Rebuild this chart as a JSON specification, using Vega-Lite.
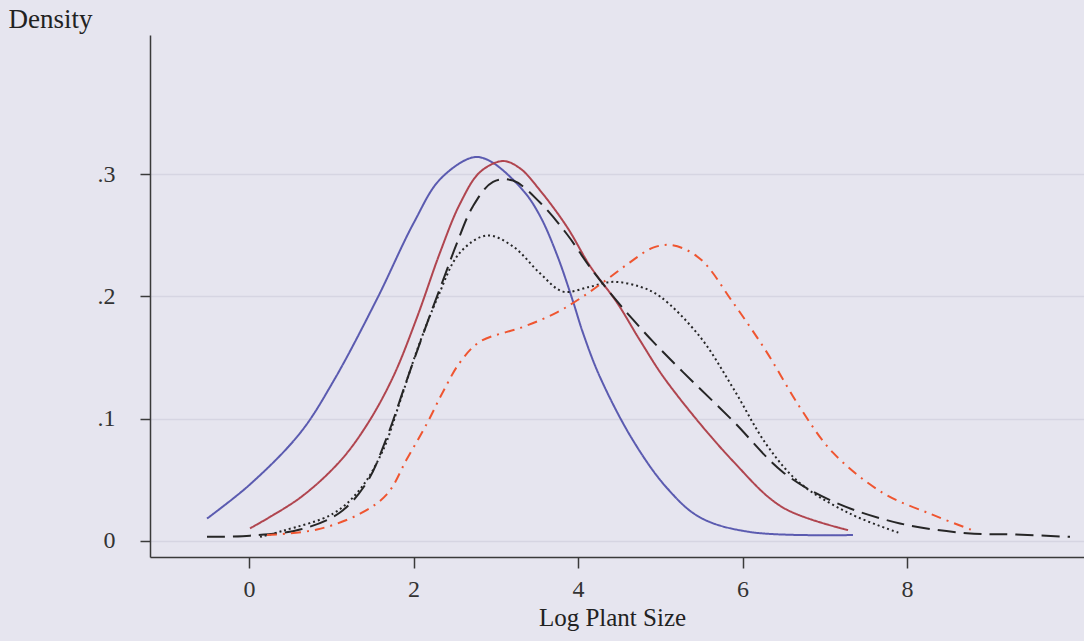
{
  "$schema": "https://vega.github.io/schema/vega-lite/v6.json",
  "width": 934,
  "height": 522,
  "autosize": {"type": "none"},
  "padding": {"left": 150, "top": 35, "right": 0, "bottom": 84},
  "background": "#e6e5ef",
  "config": {
    "view": {"stroke": null, "fill": "#e6e5ef"},
    "font": "Liberation Serif"
  },
  "data": {
    "values": [
      {"s": "A", "x": -0.511, "y": 0.018},
      {"s": "A", "x": 0.012, "y": 0.046},
      {"s": "A", "x": 0.620, "y": 0.088},
      {"s": "A", "x": 1.021, "y": 0.130},
      {"s": "A", "x": 1.556, "y": 0.198},
      {"s": "A", "x": 2.000, "y": 0.260},
      {"s": "A", "x": 2.322, "y": 0.296},
      {"s": "A", "x": 2.723, "y": 0.314},
      {"s": "A", "x": 2.930, "y": 0.311},
      {"s": "A", "x": 3.331, "y": 0.287},
      {"s": "A", "x": 3.538, "y": 0.266},
      {"s": "A", "x": 3.745, "y": 0.234},
      {"s": "A", "x": 3.939, "y": 0.196},
      {"s": "A", "x": 4.061, "y": 0.170},
      {"s": "A", "x": 4.267, "y": 0.134},
      {"s": "A", "x": 4.669, "y": 0.082},
      {"s": "A", "x": 5.082, "y": 0.043},
      {"s": "A", "x": 5.483, "y": 0.019},
      {"s": "A", "x": 6.091, "y": 0.007},
      {"s": "A", "x": 7.343, "y": 0.0045},

      {"s": "B", "x": 0.012, "y": 0.010},
      {"s": "B", "x": 0.620, "y": 0.035},
      {"s": "B", "x": 1.106, "y": 0.065},
      {"s": "B", "x": 1.435, "y": 0.095},
      {"s": "B", "x": 1.751, "y": 0.134},
      {"s": "B", "x": 2.043, "y": 0.183},
      {"s": "B", "x": 2.322, "y": 0.236},
      {"s": "B", "x": 2.565, "y": 0.276},
      {"s": "B", "x": 2.809, "y": 0.302},
      {"s": "B", "x": 3.088, "y": 0.311},
      {"s": "B", "x": 3.295, "y": 0.305},
      {"s": "B", "x": 3.538, "y": 0.287},
      {"s": "B", "x": 3.866, "y": 0.257},
      {"s": "B", "x": 4.146, "y": 0.225},
      {"s": "B", "x": 4.474, "y": 0.195},
      {"s": "B", "x": 4.754, "y": 0.164},
      {"s": "B", "x": 5.082, "y": 0.130},
      {"s": "B", "x": 5.885, "y": 0.065},
      {"s": "B", "x": 6.492, "y": 0.027},
      {"s": "B", "x": 7.283, "y": 0.0086},

      {"s": "C", "x": -0.511, "y": 0.003},
      {"s": "C", "x": 0.012, "y": 0.004},
      {"s": "C", "x": 0.620, "y": 0.009},
      {"s": "C", "x": 1.106, "y": 0.023},
      {"s": "C", "x": 1.435, "y": 0.048},
      {"s": "C", "x": 1.678, "y": 0.085},
      {"s": "C", "x": 1.921, "y": 0.132},
      {"s": "C", "x": 2.164, "y": 0.178},
      {"s": "C", "x": 2.407, "y": 0.222},
      {"s": "C", "x": 2.529, "y": 0.244},
      {"s": "C", "x": 2.723, "y": 0.274},
      {"s": "C", "x": 2.967, "y": 0.294},
      {"s": "C", "x": 3.210, "y": 0.295},
      {"s": "C", "x": 3.538, "y": 0.277},
      {"s": "C", "x": 3.866, "y": 0.251},
      {"s": "C", "x": 4.146, "y": 0.224},
      {"s": "C", "x": 4.426, "y": 0.200},
      {"s": "C", "x": 4.669, "y": 0.181},
      {"s": "C", "x": 4.912, "y": 0.163},
      {"s": "C", "x": 5.277, "y": 0.138},
      {"s": "C", "x": 5.885, "y": 0.098},
      {"s": "C", "x": 6.492, "y": 0.056},
      {"s": "C", "x": 7.100, "y": 0.032},
      {"s": "C", "x": 7.915, "y": 0.014},
      {"s": "C", "x": 8.729, "y": 0.006},
      {"s": "C", "x": 9.290, "y": 0.005},
      {"s": "C", "x": 9.982, "y": 0.003},

      {"s": "D", "x": 0.134, "y": 0.003},
      {"s": "D", "x": 0.413, "y": 0.008},
      {"s": "D", "x": 1.021, "y": 0.022},
      {"s": "D", "x": 1.350, "y": 0.042},
      {"s": "D", "x": 1.629, "y": 0.074},
      {"s": "D", "x": 1.836, "y": 0.114},
      {"s": "D", "x": 2.043, "y": 0.156},
      {"s": "D", "x": 2.286, "y": 0.198},
      {"s": "D", "x": 2.565, "y": 0.236},
      {"s": "D", "x": 2.894, "y": 0.250},
      {"s": "D", "x": 3.210, "y": 0.241},
      {"s": "D", "x": 3.538, "y": 0.219},
      {"s": "D", "x": 3.818, "y": 0.204},
      {"s": "D", "x": 4.146, "y": 0.208},
      {"s": "D", "x": 4.426, "y": 0.212},
      {"s": "D", "x": 4.754, "y": 0.208},
      {"s": "D", "x": 4.997, "y": 0.200},
      {"s": "D", "x": 5.483, "y": 0.167},
      {"s": "D", "x": 5.885, "y": 0.125},
      {"s": "D", "x": 6.298, "y": 0.078},
      {"s": "D", "x": 6.699, "y": 0.047},
      {"s": "D", "x": 7.307, "y": 0.022},
      {"s": "D", "x": 7.915, "y": 0.006},

      {"s": "E", "x": 0.219, "y": 0.0045},
      {"s": "E", "x": 0.827, "y": 0.009},
      {"s": "E", "x": 1.350, "y": 0.022},
      {"s": "E", "x": 1.678, "y": 0.038},
      {"s": "E", "x": 1.921, "y": 0.067},
      {"s": "E", "x": 2.164, "y": 0.096},
      {"s": "E", "x": 2.359, "y": 0.122},
      {"s": "E", "x": 2.565, "y": 0.146},
      {"s": "E", "x": 2.809, "y": 0.163},
      {"s": "E", "x": 3.331, "y": 0.175},
      {"s": "E", "x": 3.745, "y": 0.187},
      {"s": "E", "x": 4.061, "y": 0.200},
      {"s": "E", "x": 4.353, "y": 0.214},
      {"s": "E", "x": 4.632, "y": 0.228},
      {"s": "E", "x": 4.912, "y": 0.240},
      {"s": "E", "x": 5.150, "y": 0.242},
      {"s": "E", "x": 5.483, "y": 0.231},
      {"s": "E", "x": 5.885, "y": 0.195},
      {"s": "E", "x": 6.298, "y": 0.154},
      {"s": "E", "x": 6.699, "y": 0.109},
      {"s": "E", "x": 7.100, "y": 0.072},
      {"s": "E", "x": 7.708, "y": 0.039},
      {"s": "E", "x": 8.316, "y": 0.021},
      {"s": "E", "x": 8.790, "y": 0.0086}
    ]
  },
  "mark": {"type": "line", "interpolate": "catmull-rom", "strokeWidth": 2, "strokeCap": "butt"},
  "encoding": {
    "x": {
      "field": "x",
      "type": "quantitative",
      "scale": {"domain": [-1.204, 10.152], "nice": false, "zero": false},
      "axis": {
        "values": [0, 2, 4, 6, 8],
        "grid": false,
        "domainColor": "#3a3a3a",
        "domainWidth": 1.5,
        "tickColor": "#3a3a3a",
        "tickWidth": 1.5,
        "tickSize": 11,
        "labelFont": "Liberation Serif",
        "labelFontSize": 24,
        "labelColor": "#333333",
        "labelPadding": 9,
        "labelDx": -7,
        "title": "Log Plant Size",
        "titleFont": "Liberation Serif",
        "titleFontSize": 25,
        "titleFontWeight": "normal",
        "titleColor": "#222222",
        "titleAnchor": null,
        "titleX": 462,
        "titleY": 68,
        "titleAlign": "center",
        "titleBaseline": "alphabetic"
      }
    },
    "y": {
      "field": "y",
      "type": "quantitative",
      "scale": {"domain": [-0.0135, 0.4143], "nice": false, "zero": false},
      "axis": {
        "values": [0, 0.1, 0.2, 0.3],
        "labelExpr": "datum.value == 0 ? '0' : replace(format(datum.value, '.1f'), '0.', '.')",
        "grid": true,
        "gridColor": "#d6d5e2",
        "gridWidth": 1.5,
        "domainColor": "#3a3a3a",
        "domainWidth": 1.5,
        "tickColor": "#3a3a3a",
        "tickWidth": 1.5,
        "tickSize": 10,
        "labelFont": "Liberation Serif",
        "labelFontSize": 24,
        "labelColor": "#333333",
        "labelPadding": 25,
        "labelDy": 2,
        "title": "Density",
        "titleFont": "Liberation Serif",
        "titleFontSize": 27,
        "titleFontWeight": "normal",
        "titleColor": "#222222",
        "titleAngle": 0,
        "titleAnchor": null,
        "titleX": -142,
        "titleY": -8,
        "titleAlign": "left",
        "titleBaseline": "alphabetic"
      }
    },
    "color": {
      "field": "s",
      "type": "nominal",
      "scale": {"domain": ["A", "B", "C", "D", "E"], "range": ["#5b5bb0", "#b0454f", "#262626", "#262626", "#ef5530"]},
      "legend": null
    },
    "strokeDash": {
      "field": "s",
      "type": "nominal",
      "scale": {"domain": ["A", "B", "C", "D", "E"], "range": [[1, 0], [1, 0], [18, 8], [2, 3], [10, 6, 2, 6]]},
      "legend": null
    }
  }
}
